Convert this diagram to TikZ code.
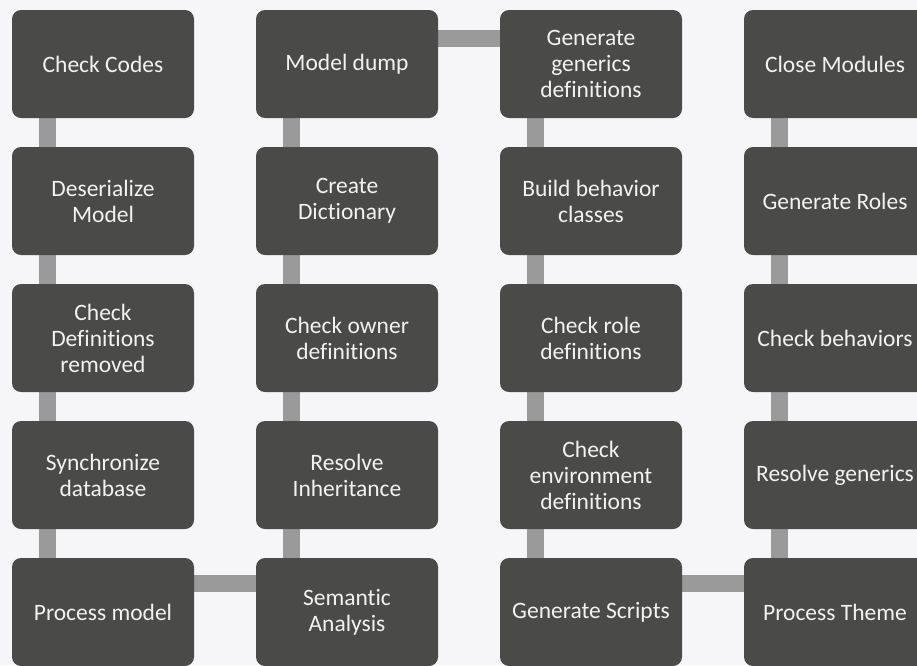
\documentclass[tikz,border=0pt]{standalone}
\usepackage{fontspec}
\setmainfont[Ligatures={NoCommon}]{Carlito}
\usetikzlibrary{calc,backgrounds}
\definecolor{boxfill}{HTML}{4A4A48}
\definecolor{boxtext}{HTML}{F2F2F2}
\definecolor{linkgray}{HTML}{9A9A9A}
\definecolor{paper}{HTML}{F6F6F8}
\begin{document}
\begin{tikzpicture}[x=1pt,y=-1pt,
  stepbox/.style={rectangle, rounded corners=9pt, fill=boxfill, text=boxtext,
    minimum width=182pt, minimum height=108pt, align=center, inner sep=0pt,
    font=\fontsize{23.5}{26}\selectfont},
  link/.style={draw=linkgray, line width=17pt}]
\useasboundingbox (0,0) rectangle (917,665);
\clip (0,0) rectangle (917,665);
% column 1
\node[stepbox] (cc) at (103,64)  {Check Codes};
\node[stepbox] (dm) at (103,201) {Deserialize\\Model};
\node[stepbox] (cd) at (103,338) {Check\\Definitions\\removed};
\node[stepbox] (sd) at (103,475) {Synchronize\\database};
\node[stepbox] (pm) at (103,612) {Process model};
% column 2
\node[stepbox] (md) at (347,64)  {Model dump};
\node[stepbox] (cr) at (347,201) {Create\\Dictionary};
\node[stepbox] (co) at (347,338) {Check owner\\definitions};
\node[stepbox] (ri) at (347,475) {Resolve\\Inheritance};
\node[stepbox] (sa) at (347,612) {Semantic\\Analysis};
% column 3
\node[stepbox] (gg) at (591,64)  {Generate\\generics\\definitions};
\node[stepbox] (bb) at (591,201) {Build behavior\\classes};
\node[stepbox] (rd) at (591,338) {Check role\\definitions};
\node[stepbox] (ce) at (591,475) {Check\\environment\\definitions};
\node[stepbox] (gs) at (591,612) {Generate Scripts};
% column 4
\node[stepbox] (cm) at (835,64)  {Close Modules};
\node[stepbox] (gr) at (835,201) {Generate Roles};
\node[stepbox] (cb) at (835,338) {Check behaviors};
\node[stepbox] (rg) at (835,475) {Resolve generics};
\node[stepbox] (pt) at (835,612) {Process Theme};
\begin{scope}[on background layer]
  \fill[paper] (0,0) rectangle (917,665);
  \foreach \a/\b in {cc/dm,dm/cd,cd/sd,sd/pm,md/cr,cr/co,co/ri,ri/sa,
                     gg/bb,bb/rd,rd/ce,ce/gs,cm/gr,gr/cb,cb/rg,rg/pt}
    \draw[link] ($(\a.south west)+(36,0)$) -- ($(\b.north west)+(36,0)$);
  \draw[link] ($(md.east)+(0,-26)$) -- ($(gg.west)+(0,-26)$);
  \draw[link] ($(pm.east)+(0,-29)$) -- ($(sa.west)+(0,-29)$);
  \draw[link] ($(gs.east)+(0,-29)$) -- ($(pt.west)+(0,-29)$);
\end{scope}
\end{tikzpicture}
\end{document}
